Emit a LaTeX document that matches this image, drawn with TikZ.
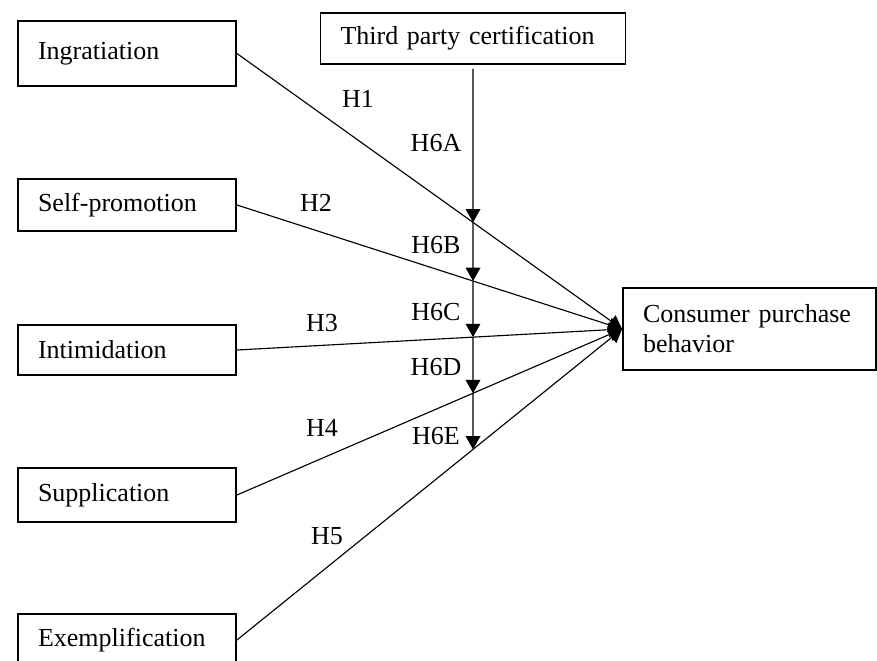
\documentclass[tikz,border=0pt]{standalone}
\usepackage{fontspec}
\setmainfont{Liberation Serif}
\usetikzlibrary{arrows.meta}

\begin{document}
\begin{tikzpicture}[
    x=0.75pt, y=-0.75pt,
    >={Triangle[length=10pt,width=11pt]},
    txt/.style={font=\fontsize{19.5}{22.5}\selectfont},
    box/.style={draw, line width=1.4pt, txt, align=left, inner xsep=15pt, inner ysep=0pt},
    tactic/.style={box, text width=133.5pt, minimum height=39pt},
    hyp/.style={txt, inner sep=0pt},
    link/.style={->, line width=0.85pt},
]
\path[use as bounding box, clip] (0,0) rectangle (877,660);

% Impression management tactics
\node[tactic, minimum height=48.75pt] (ingr) at (127,53.5) {Ingratiation};
\node[tactic] (self) at (127,205) {Self-promotion};
\node[tactic, minimum height=37.5pt] (intim) at (127,350) {Intimidation};
\node[tactic, minimum height=40.5pt] (suppl) at (127,495) {Supplication};
\node[tactic] (exempl) at (127,640) {Exemplification};

% Moderator
\node[box, text width=198.75pt, minimum height=38.25pt] (cert) at (473,38.5) {Third party certification};

% Outcome
\node[box, text width=159.75pt, minimum height=61.5pt] (cpb) at (749.5,329) {Consumer purchase\\behavior};

% Direct paths
\draw[link] (ingr.east) -- (cpb.west);
\draw[link] (self.east) -- (cpb.west);
\draw[link] (intim.east) -- (cpb.west);
\draw[link] (suppl.east) -- (cpb.west);
\draw[link] (exempl.east) -- (cpb.west);

% Moderating line
\coordinate (mbot) at (cert.south |- exempl.center);
\coordinate (m1) at (intersection of cert.south--mbot and ingr.east--cpb.west);
\coordinate (m2) at (intersection of cert.south--mbot and self.east--cpb.west);
\coordinate (m3) at (intersection of cert.south--mbot and intim.east--cpb.west);
\coordinate (m4) at (intersection of cert.south--mbot and suppl.east--cpb.west);
\coordinate (m5) at (intersection of cert.south--mbot and exempl.east--cpb.west);
\draw[link, shorten <=3pt] (cert.south) -- (m1);
\draw[link] (m1) -- (m2);
\draw[link] (m2) -- (m3);
\draw[link] (m3) -- (m4);
\draw[link] (m4) -- (m5);

% Hypotheses
\node[hyp] (h1) at (358,99) {H1};
\node[hyp] (h2) at (316,203) {H2};
\node[hyp] (h3) at (322,323) {H3};
\node[hyp] (h4) at (322,428) {H4};
\node[hyp] (h5) at (327,536) {H5};
\node[hyp] (h6a) at (436,143) {H6A};
\node[hyp] (h6b) at (436,245) {H6B};
\node[hyp] (h6c) at (436,312) {H6C};
\node[hyp] (h6d) at (436,367) {H6D};
\node[hyp] (h6e) at (436,436) {H6E};

\end{tikzpicture}
\end{document}
